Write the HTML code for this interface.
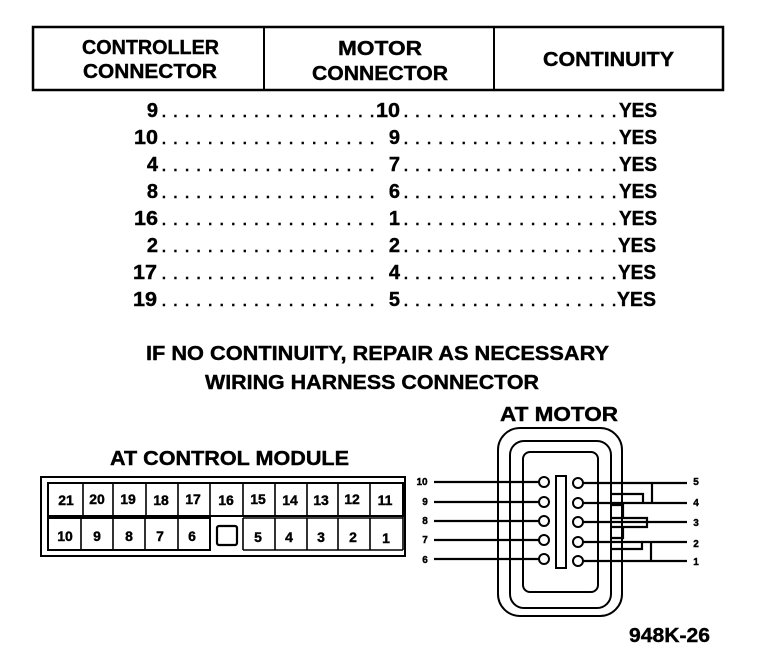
<!DOCTYPE html>
<html><head><meta charset="utf-8"><style>
html,body{margin:0;padding:0;background:#fff;width:768px;height:658px;overflow:hidden}
svg{display:block}
text{font-family:"Liberation Sans",sans-serif;font-weight:bold;fill:#000;stroke:#000;stroke-width:.4px}
.h{font-size:20px}.r{font-size:20px}.d{font-size:14px}.c{font-size:14px;text-anchor:middle}.p{font-size:10px;text-anchor:middle}
</style></head><body>
<svg width="768" height="658" viewBox="0 0 768 658" xmlns="http://www.w3.org/2000/svg">
<g fill="none" stroke="#000">
<rect x="33" y="27" width="690" height="63" stroke-width="2.5"/>
<path d="M264 27V90M494 27V90" stroke-width="2"/>
</g>
<text class="h" x="82" y="54" textLength="137" lengthAdjust="spacingAndGlyphs">CONTROLLER</text>
<text class="h" x="83" y="78" textLength="134" lengthAdjust="spacingAndGlyphs">CONNECTOR</text>
<text class="h" x="338" y="55" textLength="84" lengthAdjust="spacingAndGlyphs">MOTOR</text>
<text class="h" x="312" y="80" textLength="136" lengthAdjust="spacingAndGlyphs">CONNECTOR</text>
<text class="h" x="543" y="66" textLength="131" lengthAdjust="spacingAndGlyphs">CONTINUITY</text>

<g text-anchor="end">
<text class="r" x="158" y="117">9</text><text class="r" x="158" y="144" textLength="24" lengthAdjust="spacingAndGlyphs">10</text><text class="r" x="158" y="171">4</text><text class="r" x="158" y="198">8</text><text class="r" x="158" y="225" textLength="24" lengthAdjust="spacingAndGlyphs">16</text><text class="r" x="158" y="252">2</text><text class="r" x="157" y="279" textLength="24" lengthAdjust="spacingAndGlyphs">17</text><text class="r" x="157" y="306" textLength="24" lengthAdjust="spacingAndGlyphs">19</text>
<text class="r" x="400" y="117" textLength="24" lengthAdjust="spacingAndGlyphs">10</text><text class="r" x="400" y="144">9</text><text class="r" x="400" y="171">7</text><text class="r" x="400" y="198">6</text><text class="r" x="400" y="225">1</text><text class="r" x="400" y="252">2</text><text class="r" x="400" y="279">4</text><text class="r" x="400" y="306">5</text>
</g>
<g>
<text class="d" x="162" y="117" textLength="212" lengthAdjust="spacing">...................</text><text class="d" x="404" y="117" textLength="212" lengthAdjust="spacing">...................</text>
<text class="d" x="162" y="144" textLength="212" lengthAdjust="spacing">...................</text><text class="d" x="404" y="144" textLength="212" lengthAdjust="spacing">...................</text>
<text class="d" x="162" y="171" textLength="212" lengthAdjust="spacing">...................</text><text class="d" x="404" y="171" textLength="212" lengthAdjust="spacing">...................</text>
<text class="d" x="162" y="198" textLength="212" lengthAdjust="spacing">...................</text><text class="d" x="404" y="198" textLength="212" lengthAdjust="spacing">...................</text>
<text class="d" x="162" y="225" textLength="212" lengthAdjust="spacing">...................</text><text class="d" x="404" y="225" textLength="212" lengthAdjust="spacing">...................</text>
<text class="d" x="162" y="252" textLength="212" lengthAdjust="spacing">...................</text><text class="d" x="404" y="252" textLength="212" lengthAdjust="spacing">...................</text>
<text class="d" x="162" y="279" textLength="212" lengthAdjust="spacing">...................</text><text class="d" x="404" y="279" textLength="212" lengthAdjust="spacing">...................</text>
<text class="d" x="162" y="306" textLength="212" lengthAdjust="spacing">...................</text><text class="d" x="404" y="306" textLength="212" lengthAdjust="spacing">...................</text>
</g>
<g>
<text class="r" x="619" y="117" textLength="38" lengthAdjust="spacingAndGlyphs">YES</text><text class="r" x="619" y="144" textLength="38" lengthAdjust="spacingAndGlyphs">YES</text><text class="r" x="619" y="171" textLength="38" lengthAdjust="spacingAndGlyphs">YES</text><text class="r" x="619" y="198" textLength="38" lengthAdjust="spacingAndGlyphs">YES</text><text class="r" x="619" y="225" textLength="38" lengthAdjust="spacingAndGlyphs">YES</text><text class="r" x="618" y="252" textLength="38" lengthAdjust="spacingAndGlyphs">YES</text><text class="r" x="618" y="279" textLength="38" lengthAdjust="spacingAndGlyphs">YES</text><text class="r" x="617" y="306" textLength="39" lengthAdjust="spacingAndGlyphs">YES</text>
</g>

<text class="r" x="146" y="360" textLength="463" lengthAdjust="spacingAndGlyphs">IF NO CONTINUITY, REPAIR AS NECESSARY</text>
<text class="r" x="205" y="389" textLength="334" lengthAdjust="spacingAndGlyphs">WIRING HARNESS CONNECTOR</text>
<text class="r" x="500" y="421" textLength="118" lengthAdjust="spacingAndGlyphs">AT MOTOR</text>
<text class="r" x="110" y="465" textLength="239" lengthAdjust="spacingAndGlyphs">AT CONTROL MODULE</text>

<!-- control module -->
<g fill="none" stroke="#000">
<rect x="41" y="477" width="364" height="79" stroke-width="2"/>
<path d="M48 483H403V516H48ZM48 518H210V550H48Z" stroke-width="2"/>
<path d="M48 483V550M403 483V550M83 483V516M113 483V516M146 483V516M178 483V516M210 483V516M243 483V516M275 483V516M307 483V516M338 483V516M370 483V516M81 518V550M113 518V550M145 518V550M178 518V550M243 518V550M275 518V550M307 518V550M338 518V550M370 518V550M243 550H403M243 518H403" stroke-width="1.6"/>
<rect x="217" y="526" width="20" height="19" rx="2" stroke-width="2.2"/>
</g>
<g>
<text class="c" x="66" y="505">21</text><text class="c" x="97" y="504">20</text><text class="c" x="128" y="504">19</text><text class="c" x="161" y="505">18</text><text class="c" x="193" y="504">17</text><text class="c" x="226" y="505">16</text><text class="c" x="258" y="504">15</text><text class="c" x="290" y="505">14</text><text class="c" x="321" y="505">13</text><text class="c" x="352" y="504">12</text><text class="c" x="385" y="505">11</text>
<text class="c" x="65" y="541">10</text><text class="c" x="97" y="541">9</text><text class="c" x="129" y="541">8</text><text class="c" x="160" y="541">7</text><text class="c" x="192" y="541">6</text><text class="c" x="258" y="542">5</text><text class="c" x="289" y="542">4</text><text class="c" x="321" y="542">3</text><text class="c" x="353" y="542">2</text><text class="c" x="386" y="543">1</text>
</g>

<!-- motor connector -->
<g fill="none" stroke="#000" stroke-width="2">
<rect x="498" y="428" width="124" height="188" rx="22"/>
<rect x="510" y="441" width="101" height="167" rx="14"/>
<rect x="523" y="452" width="75" height="140" rx="7"/>
<rect x="556" y="476" width="10" height="92"/>
<g stroke-width="2.2">
<path d="M434 482H539M434 502H539M434 521H539M434 540H539M434 559H539"/>
<path d="M583 483H687M583 503H687M583 522H687M583 542H687M583 561H687"/>
<path d="M652 483V503M651 542V561"/>
<path d="M611 494H643V503M611 549H642V542"/>
<path d="M612 505H623V518M612 538H623V527M610 518H647V527H610"/>
</g>
<g fill="#fff">
<circle cx="544" cy="482" r="5"/><circle cx="544" cy="502" r="5"/><circle cx="544" cy="521" r="5"/><circle cx="544" cy="540" r="5"/><circle cx="544" cy="559" r="5"/>
<circle cx="578" cy="483" r="5"/><circle cx="578" cy="503" r="5"/><circle cx="578" cy="522" r="5"/><circle cx="578" cy="542" r="5"/><circle cx="578" cy="561" r="5"/>
</g>
</g>
<g>
<text class="p" x="422" y="485">10</text><text class="p" x="425" y="505">9</text><text class="p" x="425" y="524">8</text><text class="p" x="425" y="543">7</text><text class="p" x="425" y="563">6</text>
<text class="p" x="696" y="485">5</text><text class="p" x="696" y="506">4</text><text class="p" x="696" y="526">3</text><text class="p" x="696" y="547">2</text><text class="p" x="696" y="565">1</text>
</g>
<text class="r" x="629" y="642" textLength="81" lengthAdjust="spacingAndGlyphs">948K-26</text>
</svg>
</body></html>
